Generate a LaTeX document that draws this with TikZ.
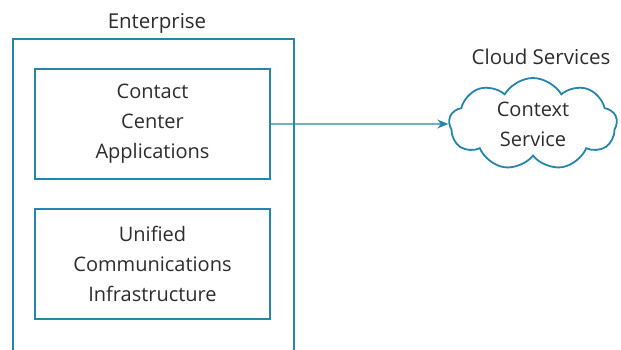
\documentclass[tikz,border=0pt]{standalone}
\usepackage{fontspec}
\setmainfont{Open Sans}
\usetikzlibrary{shapes.symbols,arrows.meta}
\definecolor{teal}{RGB}{38,134,170}
\definecolor{txt}{RGB}{45,45,45}
\tikzset{
  box/.style={draw=teal,line width=1.8pt,minimum width=235pt,minimum height=110pt,inner sep=0pt,align=center,text=txt,font=\fontsize{20}{30}\selectfont},
  lbl/.style={text=txt,font=\fontsize{20.5}{24}\selectfont,inner sep=0pt},
  link/.style={draw=teal,line width=1.3pt,-{Stealth[length=11pt,width=9pt]}}
}
\begin{document}
\begin{tikzpicture}[x=1pt,y=-1pt]
\useasboundingbox[fill=white] (0,0) rectangle (621,349);
\draw[teal,line width=1.8pt] (13,352) -- (13,39) -- (294,39) -- (294,352);
\node[lbl] (ent) at (157,23) {Enterprise};
\node[box] (cca) at (152.5,124) {Contact\\Center\\Applications};
\node[box] (uci) at (152.5,264) {Unified\\Communications\\Infrastructure};
\node[cloud,cloud puffs=9,cloud puff arc=120,aspect=1.9,draw=teal,line width=1.8pt,minimum width=168pt,minimum height=92pt,inner sep=0pt,align=center,text=txt,font=\fontsize{20}{30}\selectfont] (cs) at (533,124) {Context\\Service};
\node[lbl] (cl) at (541,57) {Cloud Services};
\draw[link] (cca.east) -- (cs.west);
\end{tikzpicture}
\end{document}
